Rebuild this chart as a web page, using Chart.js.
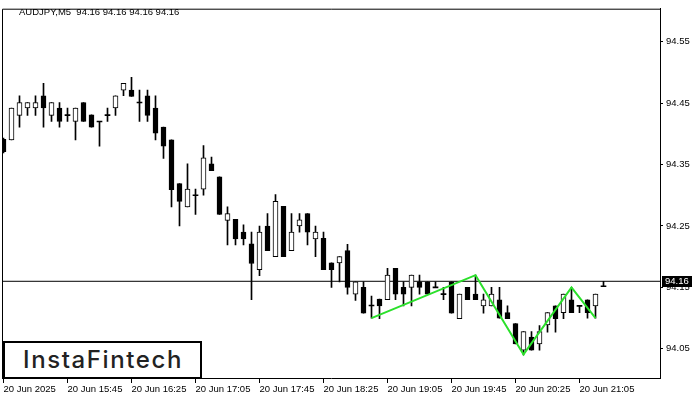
<!DOCTYPE html>
<html lang="en">
<head>
<meta charset="UTF-8">
<title>AUDJPY M5</title>
<script src="https://cdn.jsdelivr.net/npm/chart.js"></script>
<style>
    body { margin: 0; background: #fff; }
    .wrap { position: relative; width: 700px; height: 400px; }
    canvas { display: block; }
    .title {
        position: absolute; left: 19px; top: 6px;
        font: 9.5px "Liberation Sans", Arial, sans-serif;
        line-height: 11px; color: #000; white-space: pre;
    }
    .logo {
        position: absolute; left: 3px; top: 341px;
        width: 199px; height: 38px; box-sizing: border-box;
        border: 2px solid #000; background: #fff;
        font: 500 24px Inter, sans-serif; color: #222;
        letter-spacing: 1.6px; padding-left: 1px;
        text-align: center; line-height: 33px;
    }
</style>
</head>
<body>
<div class="wrap">
    <canvas id="chart" width="700" height="400"></canvas>
    <div class="title">AUDJPY,M5  94.16 94.16 94.16 94.16</div>
    <div class="logo">InstaFintech</div>
</div>
<script>
// candles, one per 5 minutes
const openPrices = [
    94.391, 94.390, 94.430, 94.442, 94.442, 94.462, 94.430, 94.442, 94.430, 94.420,
    94.451, 94.431, 94.420, 94.430, 94.442, 94.471, 94.471, 94.451, 94.462, 94.442,
    94.411, 94.390, 94.319, 94.281, 94.300, 94.310, 94.351, 94.330, 94.259, 94.261,
    94.240, 94.221, 94.179, 94.250, 94.200, 94.282, 94.210, 94.250, 94.270, 94.229,
    94.230, 94.190, 94.190, 94.210, 94.139, 94.150, 94.121, 94.131, 94.130, 94.181,
    94.150, 94.150, 94.159, 94.159, 94.150, 94.139, 94.159, 94.099, 94.150, 94.139,
    94.120, 94.120, 94.130, 94.109, 94.091, 94.048, 94.069, 94.058, 94.089, 94.120,
    94.109, 94.130, 94.120, 94.130, 94.120, 94.152
];
const highPrices = [
    94.393, 94.442, 94.462, 94.451, 94.462, 94.482, 94.451, 94.451, 94.442, 94.442,
    94.451, 94.431, 94.420, 94.442, 94.462, 94.482, 94.492, 94.471, 94.471, 94.462,
    94.411, 94.390, 94.319, 94.351, 94.310, 94.381, 94.362, 94.330, 94.281, 94.261,
    94.252, 94.240, 94.250, 94.270, 94.301, 94.282, 94.270, 94.270, 94.270, 94.250,
    94.240, 94.190, 94.200, 94.220, 94.159, 94.159, 94.136, 94.131, 94.181, 94.181,
    94.159, 94.170, 94.170, 94.159, 94.159, 94.150, 94.159, 94.139, 94.150, 94.170,
    94.139, 94.150, 94.150, 94.120, 94.091, 94.078, 94.078, 94.088, 94.109, 94.120,
    94.139, 94.150, 94.120, 94.130, 94.139, 94.160
];
const lowPrices = [
    94.369, 94.390, 94.411, 94.430, 94.430, 94.411, 94.420, 94.411, 94.420, 94.390,
    94.420, 94.411, 94.380, 94.420, 94.430, 94.462, 94.461, 94.420, 94.420, 94.390,
    94.360, 94.281, 94.250, 94.281, 94.269, 94.300, 94.340, 94.269, 94.219, 94.219,
    94.219, 94.130, 94.169, 94.210, 94.200, 94.200, 94.210, 94.240, 94.219, 94.200,
    94.179, 94.150, 94.159, 94.139, 94.129, 94.108, 94.100, 94.099, 94.130, 94.130,
    94.120, 94.120, 94.139, 94.139, 94.150, 94.130, 94.108, 94.099, 94.130, 94.130,
    94.108, 94.120, 94.100, 94.099, 94.058, 94.040, 94.048, 94.048, 94.077, 94.077,
    94.099, 94.109, 94.109, 94.100, 94.100, 94.152
];
const closePrices = [
    94.371, 94.442, 94.451, 94.451, 94.451, 94.442, 94.451, 94.420, 94.431, 94.442,
    94.420, 94.411, 94.420, 94.431, 94.462, 94.482, 94.461, 94.451, 94.430, 94.401,
    94.380, 94.309, 94.290, 94.310, 94.300, 94.361, 94.340, 94.269, 94.270, 94.229,
    94.229, 94.189, 94.240, 94.210, 94.290, 94.200, 94.240, 94.260, 94.240, 94.240,
    94.179, 94.179, 94.200, 94.150, 94.159, 94.108, 94.120, 94.120, 94.170, 94.139,
    94.139, 94.170, 94.150, 94.139, 94.150, 94.139, 94.108, 94.139, 94.130, 94.130,
    94.130, 94.139, 94.100, 94.099, 94.058, 94.078, 94.048, 94.078, 94.109, 94.099,
    94.139, 94.109, 94.120, 94.109, 94.139, 94.152
];

const timeLabels = ['20 Jun 2025', '20 Jun 15:45', '20 Jun 16:25', '20 Jun 17:05', '20 Jun 17:45',
                    '20 Jun 18:25', '20 Jun 19:05', '20 Jun 19:45', '20 Jun 20:25', '20 Jun 21:05'];
const labelBars = [0, 8, 16, 24, 32, 40, 48, 56, 64, 72];

// green pattern outline (bar index, price)
const patternBars = [46, 59, 65, 71, 74];
const patternPrices = [94.100, 94.170, 94.041, 94.150, 94.100];

const priceTicks = [94.05, 94.15, 94.25, 94.35, 94.45, 94.55];
const currentPrice = 94.16;

const xMin = -0.1875, xMax = 82.0625;
const yMin = 94.0026, yMax = 94.6036;

const wicks = openPrices.map((o, i) => ({ x: i, y: [lowPrices[i], highPrices[i]] }));
const bodies = openPrices.map((o, i) => {
    const c = closePrices[i];
    if (Math.abs(c - o) < 0.0015) {
        const m = (c + o) / 2;
        return { x: i, y: [m - 0.0008, m + 0.0008] };
    }
    return { x: i, y: [Math.min(o, c), Math.max(o, c)] };
});
const bodyColors = openPrices.map((o, i) =>
    (closePrices[i] - o >= 0.0015) ? '#ffffff' : '#000000');
const bodyBorders = openPrices.map((o, i) =>
    Math.abs(closePrices[i] - o) < 0.0015 ? 0 : 1);

const frame = {
    id: 'frame',
    afterDraw(chart) {
        const { ctx, chartArea: a, scales } = chart;
        ctx.save();
        ctx.strokeStyle = '#000';
        ctx.lineWidth = 1;
        ctx.beginPath();
        ctx.moveTo(a.left + 0.5, a.bottom);
        ctx.lineTo(a.left + 0.5, a.top + 0.5);
        ctx.lineTo(a.right, a.top + 0.5);
        ctx.stroke();
        // current price box on the right axis
        const y = Math.round(scales.y.getPixelForValue(currentPrice));
        ctx.fillStyle = '#000';
        ctx.fillRect(a.right + 2, y - 5, 30, 11);
        ctx.fillStyle = '#fff';
        ctx.font = '9.5px "Liberation Sans", Arial, sans-serif';
        ctx.textBaseline = 'middle';
        ctx.fillText(currentPrice.toFixed(2), a.right + 5, y + 0.5);
        ctx.restore();
    }
};

new Chart(document.getElementById('chart'), {
    type: 'bar',
    data: {
        datasets: [
            {
                type: 'line',
                data: patternBars.map((b, i) => ({ x: b, y: patternPrices[i] })),
                borderColor: '#2be02b',
                borderWidth: 2,
                pointRadius: 0,
                order: 0
            },
            {
                data: bodies,
                backgroundColor: bodyColors,
                borderColor: '#000',
                borderWidth: bodyBorders,
                borderSkipped: false,
                barThickness: 5,
                grouped: false,
                order: 1
            },
            {
                data: wicks,
                backgroundColor: '#000',
                borderWidth: 0,
                barThickness: 1,
                grouped: false,
                order: 2
            },
            {
                type: 'line',
                data: [{ x: xMin, y: currentPrice }, { x: xMax, y: currentPrice }],
                borderColor: '#000',
                borderWidth: 1,
                pointRadius: 0,
                order: 3
            }
        ]
    },
    options: {
        responsive: false,
        animation: false,
        devicePixelRatio: 1,
        layout: { padding: { left: 2, top: 2, right: 0, bottom: 0 } },
        plugins: { legend: { display: false }, tooltip: { enabled: false } },
        scales: {
            x: {
                type: 'linear',
                min: xMin,
                max: xMax,
                offset: false,
                bounds: 'data',
                grid: { drawOnChartArea: false, offset: false, color: '#000', tickLength: 5 },
                border: { display: true, color: '#000' },
                afterBuildTicks: s => { s.ticks = labelBars.map(v => ({ value: v })); },
                afterFit: s => { s.height = 22; },
                ticks: {
                    autoSkip: false,
                    maxRotation: 0,
                    align: 'start',
                    padding: 1,
                    color: '#000',
                    font: { family: '"Liberation Sans", Arial, sans-serif', size: 9.5 },
                    callback: v => timeLabels[labelBars.indexOf(v)]
                }
            },
            y: {
                position: 'right',
                min: yMin,
                max: yMax,
                bounds: 'data',
                grid: { drawOnChartArea: false, color: '#000', tickLength: 3 },
                border: { display: true, color: '#000' },
                afterBuildTicks: s => { s.ticks = priceTicks.map(v => ({ value: v })); },
                afterFit: s => { s.width = 40; },
                ticks: {
                    padding: 3,
                    color: '#000',
                    font: { family: '"Liberation Sans", Arial, sans-serif', size: 9.5 },
                    callback: v => v.toFixed(2)
                }
            }
        }
    },
    plugins: [frame]
});
</script>
</body>
</html>
